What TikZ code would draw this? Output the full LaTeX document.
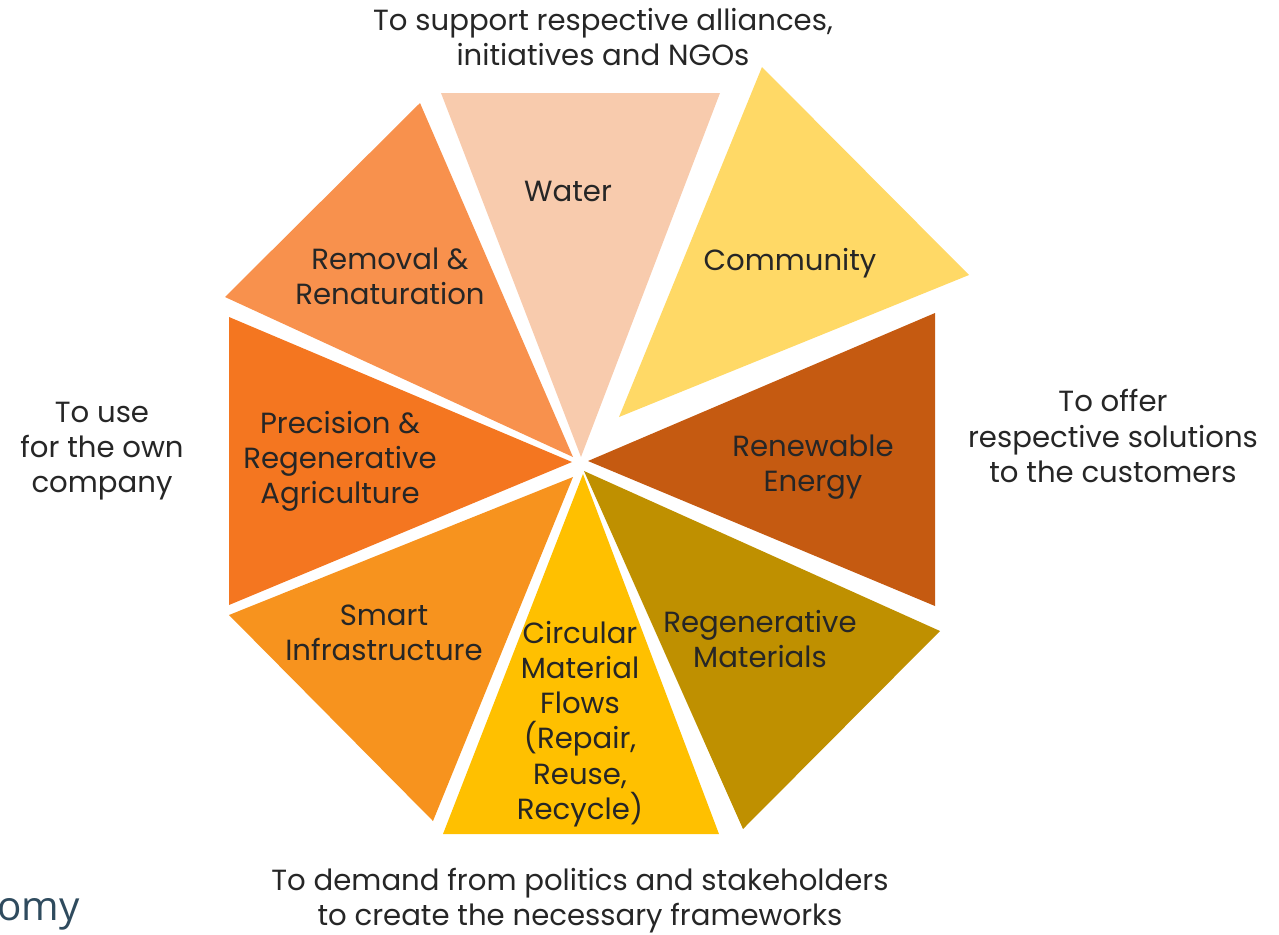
\documentclass[tikz,border=0pt]{standalone}
\usepackage{fontspec}
\setmainfont{Poppins}
\newfontfamily\omyfont{Open Sans}
\definecolor{cWater}{HTML}{F8CBAD}
\definecolor{cCommunity}{HTML}{FFD966}
\definecolor{cRenew}{HTML}{C55A11}
\definecolor{cRegMat}{HTML}{BF9000}
\definecolor{cCirc}{HTML}{FFC000}
\definecolor{cSmart}{HTML}{F7931E}
\definecolor{cPrec}{HTML}{F47620}
\definecolor{cRemoval}{HTML}{F8914D}
\definecolor{txt}{HTML}{262626}
\definecolor{slate}{HTML}{2F4B5E}
\begin{document}
\begin{tikzpicture}[x=0.02cm,y=-0.02cm,
  lbl/.style={font=\fontsize{16.6}{20}\selectfont, text=txt, align=center, inner sep=0pt}]
\useasboundingbox (0,0) rectangle (1279,934);
% segments
\fill[cWater]     (441,93)  -- (720,93)  -- (581,457) -- cycle;
\fill[cCommunity] (762,67)  -- (969,275) -- (619,417) -- cycle;
\fill[cRenew]     (935,313) -- (935,606) -- (588,461) -- cycle;
\fill[cRegMat]    (940,631) -- (743,829) -- (584,471) -- cycle;
\fill[cCirc]      (719,834) -- (443,834) -- (583,474) -- cycle;
\fill[cSmart]     (433,821) -- (229,615) -- (573,477) -- cycle;
\fill[cPrec]      (229,605) -- (229,317) -- (572,462) -- cycle;
\fill[cRemoval]   (225,297) -- (420,103) -- (573,457) -- cycle;
% segment labels
\node[lbl] (water) at (568,191) {Water};
\node[lbl] (community) at (790,263) {Community};
\node[lbl] (removal) at (390,276) {Removal \&\\Renaturation};
\node[lbl] (precision) at (340,461) {Precision \&\\Regenerative\\Agriculture};
\node[lbl] (renew) at (813,467) {Renewable\\Energy};
\node[lbl] (regmat) at (760,639) {Regenerative\\Materials};
\node[lbl] (smart) at (384,633) {Smart\\Infrastructure};
\node[lbl] (circ) at (580,724) {Circular\\Material\\Flows\\(Repair,\\Reuse,\\Recycle)};
% outer labels
\node[lbl] (top) at (603,37) {To support respective alliances,\\initiatives and NGOs};
\node[lbl] (left) at (102,451) {To use\\for the own\\company};
\node[lbl] (right) at (1113,436) {To offer\\respective solutions\\to the customers};
\node[lbl] (bottom) at (580,901) {To demand from politics and stakeholders\\to create the necessary frameworks};
\node[anchor=base west, inner sep=0pt, text=slate, font=\omyfont\fontsize{23}{28}\selectfont] (omy) at (-3,920) {omy};
\end{tikzpicture}
\end{document}
